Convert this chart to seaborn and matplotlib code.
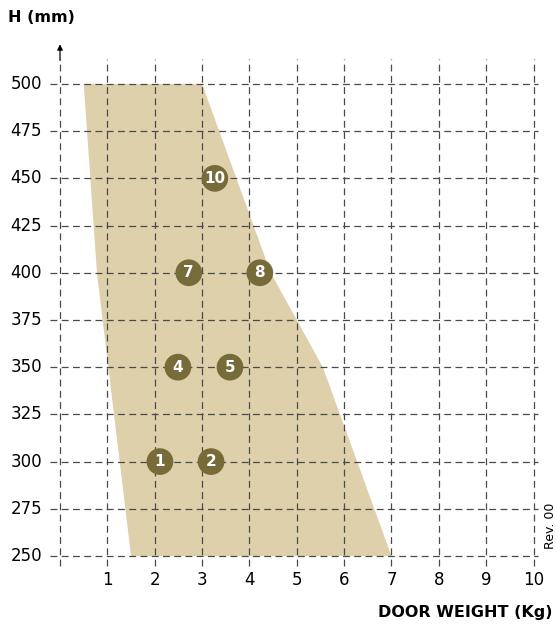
"""Door weight vs. height working range chart."""

import matplotlib
matplotlib.use("Agg")
import matplotlib.pyplot as plt
import seaborn as sns
import pandas as pd

# Data
weight_ticks = [1, 2, 3, 4, 5, 6, 7, 8, 9, 10]
height_ticks = [250, 275, 300, 325, 350, 375, 400, 425, 450, 475, 500]

# boundary of the allowed area (kg, mm)
area_weight = [0.5, 3.0, 4.45, 5.55, 7.0, 1.5, 0.78]
area_height = [500, 500, 400, 350, 250, 250, 400]

# numbered door models
model_ids = ["1", "2", "4", "5", "7", "8", "10"]
model_weight = [2.11, 3.19, 2.49, 3.59, 2.72, 4.22, 3.27]
model_height = [300, 300, 350, 350, 400, 400, 450]

FILL = "#ddd0ab"
DOT = "#766b39"
GRID = "#4a4a4a"

sns.set_style("white")
plt.rcParams["font.family"] = ["DejaVu Sans"]
plt.rcParams["text.color"] = "black"

fig = plt.figure(figsize=(5.56, 6.28), dpi=100)
ax = fig.add_axes([0.0824, 0.0846, 0.9027, 0.8569])
ax.set_xlim(-0.3, 10.3)
ax.set_ylim(240, 525)
ax.axis("off")

# shaded area
ax.fill(area_weight, area_height, color=FILL, lw=0, zorder=1)

# dashed grid
dash = (0, (5.5, 3.5))
ax.vlines([0] + weight_ticks, 244.7, 513, colors=GRID, lw=0.9,
          linestyles=[dash], zorder=2)
ax.hlines(height_ticks, -0.21, 10.1, colors=GRID, lw=0.9,
          linestyles=[dash], zorder=2)
ax.annotate("", xy=(0, 521), xytext=(0, 512.5),
            arrowprops=dict(arrowstyle="-|>", color="black", lw=0.9,
                            mutation_scale=8, shrinkA=0, shrinkB=0))

# tick labels
for w in weight_ticks:
    ax.text(w, 237.3, str(w), ha="center", va="center", fontsize=12)
for h in height_ticks:
    ax.text(-0.38, h, str(h), ha="right", va="center", fontsize=12)

# numbered dots
models = pd.DataFrame({"id": model_ids, "weight": model_weight,
                       "height": model_height})
sns.scatterplot(data=models, x="weight", y="height", ax=ax, s=370,
                color=DOT, edgecolor="none", zorder=3, legend=False)
for _, r in models.iterrows():
    ax.text(r["weight"], r["height"], r["id"], ha="center", va="center",
            color="white", fontsize=11, fontweight="bold", zorder=4)

fig.text(8 / 556, 1 - 18 / 628, "H (mm)", ha="left", va="center",
         fontsize=11.5, fontweight="bold")
fig.text(553 / 556, 1 - 613 / 628, "DOOR WEIGHT (Kg)", ha="right",
         va="center", fontsize=11.5, fontweight="bold")
fig.text(550 / 556, 1 - 526 / 628, "Rev. 00", rotation=90, ha="center",
         va="center", fontsize=9)

fig.savefig("out.png", dpi=100)
